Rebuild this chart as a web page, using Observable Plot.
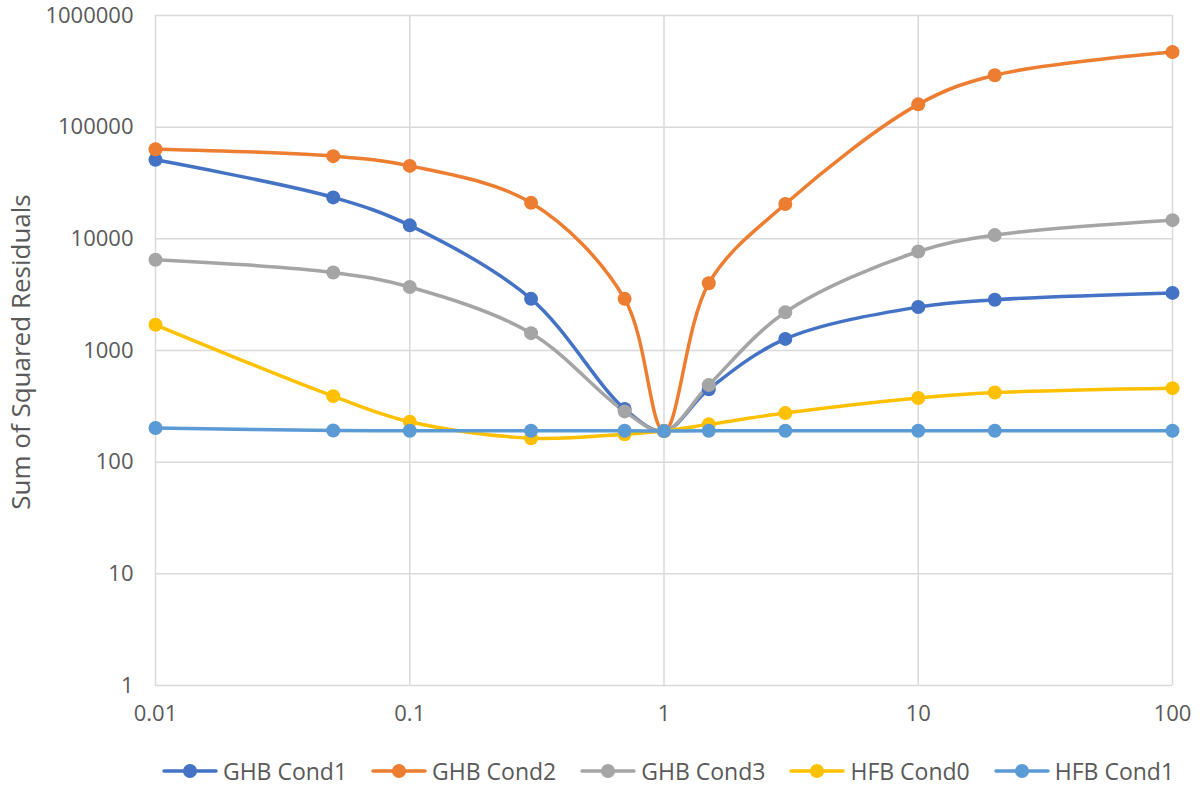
<!DOCTYPE html>
<html>
<head>
<meta charset="utf-8">
<script src="https://cdn.jsdelivr.net/npm/d3@7"></script>
<script src="https://cdn.jsdelivr.net/npm/@observablehq/plot@0.6"></script>
<style>
  html, body { margin: 0; padding: 0; background: #fff; }
  body { width: 1200px; height: 786px; overflow: hidden; font-family: "Open Sans", Lato, sans-serif; }
  #chart svg { display: block; overflow: visible; }
  #legend { display: flex; justify-content: center; align-items: center; gap: 24px; height: 46px; margin-top: 8px; margin-left: 158px; width: 1020px; font-size: 23px; color: #595959; }
  .item { display: flex; align-items: center; gap: 5px; }
</style>
</head>
<body>
<div id="chart"></div>
<div id="legend"></div>
<script>
const xValues = [0.01, 0.05, 0.1, 0.3, 0.7, 1, 1.5, 3, 10, 20, 100];
const seriesNames = ["GHB Cond1", "GHB Cond2", "GHB Cond3", "HFB Cond0", "HFB Cond1"];
const seriesColors = ["#4472C4", "#ED7D31", "#A5A5A5", "#FFC000", "#5B9BD5"];
const ghbCond1 = [51000, 23500, 13200, 2900, 300, 190, 450, 1270, 2450, 2850, 3280];
const ghbCond2 = [63500, 55000, 45000, 21000, 2900, 190, 4000, 20500, 160000, 292000, 470000];
const ghbCond3 = [6500, 5000, 3700, 1430, 285, 190, 490, 2200, 7700, 10800, 14700];
const hfbCond0 = [1700, 390, 230, 164, 178, 190, 218, 275, 375, 420, 460];
const hfbCond1 = [202, 192, 191, 191, 191, 190, 191, 191, 191, 191, 191];
const xTicks = [0.01, 0.1, 1, 10, 100];
const yTicks = [1, 10, 100, 1000, 10000, 100000, 1000000];

const seriesValues = [ghbCond1, ghbCond2, ghbCond3, hfbCond0, hfbCond1];
const rows = [];
seriesNames.forEach((name, i) => {
  xValues.forEach((x, j) => rows.push({series: name, x, y: seriesValues[i][j]}));
});

const gridColor = "#d9d9d9";
const chart = Plot.plot({
  width: 1200,
  height: 740,
  marginLeft: 155,
  marginRight: 28,
  marginTop: 15,
  marginBottom: 55,
  style: {fontFamily: "'Open Sans', Lato, sans-serif", fontSize: "22px", color: "#595959", background: "#fff"},
  x: {type: "log", domain: [0.01, 100], ticks: xTicks, tickFormat: d => String(d), tickSize: 0, tickPadding: 20, label: null},
  y: {type: "log", domain: [1, 1000000], ticks: yTicks, tickFormat: d => String(d), tickSize: 0, tickPadding: 22, label: null},
  color: {domain: seriesNames, range: seriesColors},
  marks: [
    Plot.ruleY(yTicks, {stroke: gridColor, strokeWidth: 1.5}),
    Plot.ruleX(xTicks, {stroke: gridColor, strokeWidth: 1.5}),
    Plot.line(rows, {x: "x", y: "y", z: "series", stroke: "series", strokeWidth: 3.5, curve: "catmull-rom"}),
    Plot.dot(rows, {x: "x", y: "y", fill: "series", r: 7})
  ]
});
document.getElementById("chart").appendChild(chart);

// Y-axis title
d3.select(chart).append("text")
  .attr("transform", "translate(23,352) rotate(-90)")
  .attr("text-anchor", "middle")
  .attr("dominant-baseline", "middle")
  .attr("fill", "#595959")
  .style("font-family", "'Open Sans', Lato, sans-serif")
  .style("font-size", "26px")
  .text("Sum of Squared Residuals");

const legend = document.getElementById("legend");
seriesNames.forEach((name, i) => {
  const item = document.createElement("div");
  item.className = "item";
  item.innerHTML = `<svg width="56" height="16"><line x1="2" y1="8" x2="54" y2="8" stroke="${seriesColors[i]}" stroke-width="3.5" stroke-linecap="round"/><circle cx="28" cy="8" r="7" fill="${seriesColors[i]}"/></svg><span>${name}</span>`;
  legend.appendChild(item);
});
</script>
</body>
</html>
